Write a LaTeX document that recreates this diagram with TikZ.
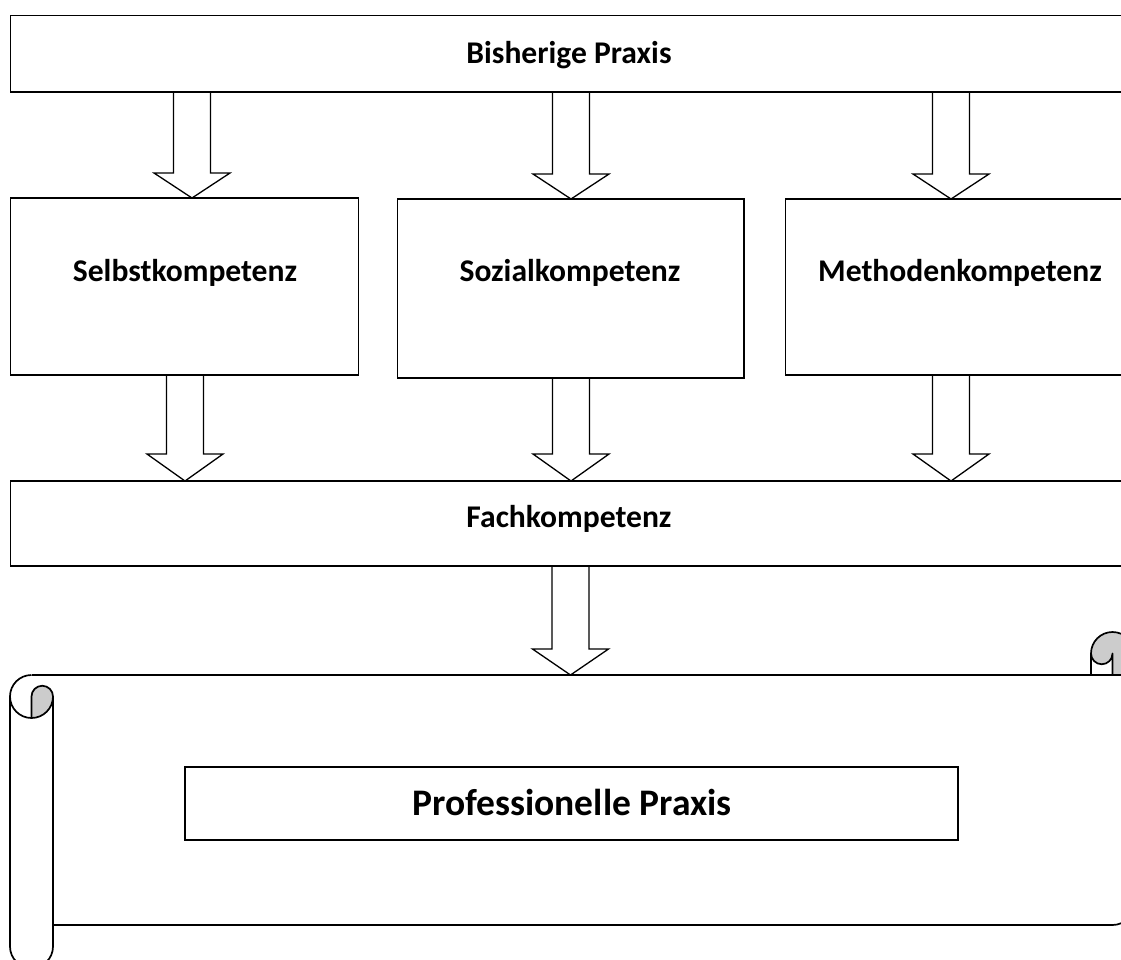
\documentclass[tikz,border=0pt]{standalone}
\usepackage{fontspec}
\setmainfont{Carlito}
\usetikzlibrary{calc}
\tikzset{
  box/.style={draw, line width=1.8pt, fill=white, inner sep=0pt, outer sep=0pt, rectangle},
  lbl/.style={font=\bfseries\fontsize{31.6}{38}\selectfont, inner sep=0pt, text height=20.3pt, text depth=0pt},
  biglbl/.style={font=\bfseries\fontsize{37.5}{45}\selectfont, inner sep=0pt, text height=24.1pt, text depth=0pt},
  blockarrow/.style={draw, line width=1.3pt, line join=miter,
    to path={let \p1=(\tikztostart), \p2=(\tikztotarget) in
      (\x1-18.5pt,\y1) -- (\x1-18.5pt,\y2+#1) -- (\x1-38pt,\y2+#1) -- (\x1,\y2)
      -- (\x1+38pt,\y2+#1) -- (\x1+18.5pt,\y2+#1) -- (\x1+18.5pt,\y1) -- cycle}},
  blockarrow/.default=26pt,
  scrollline/.style={line width=1.7pt, line join=round},
  scrollgray/.style={fill=black!20}
}
\begin{document}
\begin{tikzpicture}[x=1pt,y=-1pt]
\fill[white] (0,0) rectangle (1121,959);
\useasboundingbox (0,0) rectangle (1121,959);
\clip (0,0) rectangle (1121,959);

% boxes
\node[box, minimum width=1124.5pt, minimum height=76.5pt] (top) at (572.75,53.75) {};
\node[box, minimum width=348pt, minimum height=177pt] (selbst) at (184.5,286.5) {};
\node[box, minimum width=346.5pt, minimum height=179pt] (sozial) at (570.75,288.5) {};
\node[box, minimum width=349.5pt, minimum height=176pt] (methode) at (960.25,287) {};
\node[box, minimum width=1124.5pt, minimum height=85pt] (fach) at (572.75,523.5) {};

% labels
\node[lbl] (ltop) at (569,53) {Bisherige Praxis};
\node[lbl] (lselbst) at (185,271) {Selbstkompetenz};
\node[lbl] (lsozial) at (570,271) {Sozialkompetenz};
\node[lbl] (lmethode) at (960,271) {Methodenkompetenz};
\node[lbl] (lfach) at (569,517) {Fachkompetenz};

% column coordinates
\coordinate (c1) at (192,0);
\coordinate (c2) at (571,0);
\coordinate (c3) at (951,0);
\coordinate (d1) at (185,0);
\coordinate (d2) at (571,0);
\coordinate (d3) at (951,0);
\coordinate (e1) at (570.5,0);
\coordinate (scrolltop) at (570.5,675);

% block arrows
\draw[blockarrow=25pt] (top.south -| c1) to (selbst.north -| c1);
\draw[blockarrow=25pt] (top.south -| c2) to (sozial.north -| c2);
\draw[blockarrow=25pt] (top.south -| c3) to (methode.north -| c3);
\draw[blockarrow=27pt] (selbst.south -| d1) to (fach.north -| d1);
\draw[blockarrow=27pt] (sozial.south -| d2) to (fach.north -| d2);
\draw[blockarrow=27pt] (methode.south -| d3) to (fach.north -| d3);
\draw[blockarrow=26pt] (fach.south -| e1) to (scrolltop);

% scroll: gray parts
\fill[scrollgray] (31.5,718) -- (31.5,696.5) arc[start angle=180, end angle=360, radius=10.75]
  arc[start angle=0, end angle=90, radius=21.5] -- cycle;
\fill[scrollgray] (1112.5,675) -- (1112.5,653.5) arc[start angle=0, end angle=180, radius=10.75]
  arc[start angle=180, end angle=360, radius=21.5] -- (1134,675) -- cycle;

% scroll: outlines
\draw[scrollline] (31.5,675) arc[start angle=270, end angle=90, radius=21.5]
  -- (31.5,696.5) arc[start angle=180, end angle=360, radius=10.75]
  arc[start angle=0, end angle=90, radius=21.5];
\draw[scrollline] (10,696.5) -- (10,946.5) arc[start angle=180, end angle=0, radius=21.5] -- (53,696.5);
\draw[scrollline] (31.5,675) -- (1134,675);
\draw[scrollline] (53,925) -- (1112.5,925) arc[start angle=90, end angle=0, radius=21.5] -- (1134,653.5);
\draw[scrollline] (1091,675) -- (1091,653.5) arc[start angle=180, end angle=360, radius=21.5];
\draw[scrollline] (1112.5,675) -- (1112.5,653.5) arc[start angle=0, end angle=180, radius=10.75];

% inner box
\node[box, minimum width=773pt, minimum height=73pt] (prof) at (571.5,803.5) {};
\node[biglbl] (lprof) at (572,803) {Professionelle Praxis};
\end{tikzpicture}
\end{document}
